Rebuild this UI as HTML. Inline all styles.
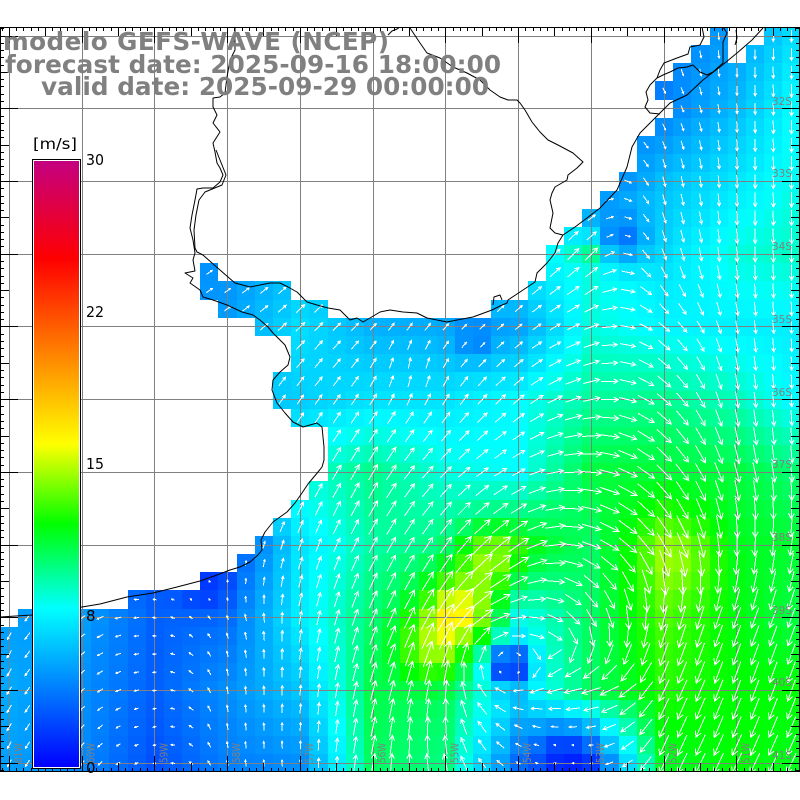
<!DOCTYPE html>
<html><head><meta charset="utf-8"><title>GEFS-WAVE</title>
<style>
html,body{margin:0;padding:0;background:#fff;width:800px;height:800px;overflow:hidden}
svg{display:block}
text{font-family:"DejaVu Sans","Liberation Sans",sans-serif;}
</style></head>
<body>
<svg id="svg" xmlns="http://www.w3.org/2000/svg" width="800" height="800" viewBox="0 0 800 800">
<defs>
<linearGradient id="cb" x1="0" y1="0" x2="0" y2="1">
<stop offset="0" stop-color="rgb(196,0,128)"/>
<stop offset="0.162" stop-color="rgb(255,0,0)"/>
<stop offset="0.467" stop-color="rgb(255,255,0)"/>
<stop offset="0.599" stop-color="rgb(0,255,0)"/>
<stop offset="0.738" stop-color="rgb(0,255,255)"/>
<stop offset="1" stop-color="rgb(0,0,255)"/>
</linearGradient>
<clipPath id="pc"><rect x="0" y="27" width="800" height="745"/></clipPath>
</defs>
<rect width="800" height="800" fill="#fff"/>
<g id="cells" shape-rendering="crispEdges" clip-path="url(#pc)"></g>
<g id="grid" stroke="#808080" stroke-width="1" shape-rendering="crispEdges"></g>
<g id="arrows" clip-path="url(#pc)"></g>
<g id="coast" stroke="#000" stroke-width="1" fill="none" stroke-linejoin="round" clip-path="url(#pc)">
<polyline points="0,617 32,615 82,607 100,604 127,597 153,593 177,587 200,581 217,575 230,570 240,567 250,562 258,555 262,550 261,540 265,532 273,522 280,517 287,512 295,503 302,493 308,484 313,478 318,472 322,467 324,460 324,447 322,427 317,423 303,427 293,422 285,413 277,403 272,390 273,380 280,372 288,365 290,357 285,345 280,340 273,333 268,327 260,320 253,315 242,312 227,305 213,300 203,297 200,290 190,283 193,278 185,273 195,271 193,260 195,253 193,240 190,228 192,215 195,200 197,189 203,188 213,188 220,182 223,175 220,168 217,163 215,152 213,143 220,132 213,123 217,115 213,107 213,98 220,97 225,93 227,77 230,60 235,50 235,27"/>
<polyline points="216,150 222,165 226,175 222,185 205,192 199,200 196,215 194,230 195,248 197,252 203,255 212,263 220,270 228,277 235,283 250,287 260,285 270,283 280,283 288,287 297,292 307,302 317,305 328,308 340,310 345,315 350,320 357,318 363,322 370,318 380,312 390,310 403,312 417,313 427,318 437,320 447,322 457,320 473,317 492,310 500,306 507,303 508,300 520,292 535,282 537,273 547,263 555,253 558,243 563,235 575,227 587,218 600,208 617,190 627,167 632,147 640,133 650,123 660,113 670,103 687,95 703,80 720,67 737,53 752,40 763,28"/>
<polyline points="563,235 555,233 550,228 553,213 550,200 552,193 555,187 567,180 568,175 577,168 583,162 573,153 558,145 548,140 540,132 532,122 525,110 520,103 517,100 508,100 500,97 490,90 480,80 467,73 453,67 440,58 427,53 420,43 410,28"/>
<polyline points="388,35 392,31 397,29 400,27"/>
<polyline points="493,305 494,297 500,295 502,300"/>
<polyline points="702,27 704,37 700,45 690,47 688,54 677,58 664,63 660,70 657,78 650,85 646,92 648,100 645,107 650,113 660,114"/>
<polyline points="723,27 727,33 723,42 723,50 723,63 713,72 707,75 700,72 693,65 687,67 678,68 670,72 663,75 657,78"/>
<polyline points="736,30 737,38 735,45"/>
</g>
<g id="ticks" stroke="#000" stroke-width="1" shape-rendering="crispEdges"></g>
<g fill="#808080" font-size="11">
<text x="772" y="105" textLength="20" lengthAdjust="spacingAndGlyphs">32S</text>
<text x="772" y="177" textLength="20" lengthAdjust="spacingAndGlyphs">33S</text>
<text x="772" y="250" textLength="20" lengthAdjust="spacingAndGlyphs">34S</text>
<text x="772" y="323" textLength="20" lengthAdjust="spacingAndGlyphs">35S</text>
<text x="772" y="396" textLength="20" lengthAdjust="spacingAndGlyphs">36S</text>
<text x="772" y="468" textLength="20" lengthAdjust="spacingAndGlyphs">37S</text>
<text x="772" y="541" textLength="20" lengthAdjust="spacingAndGlyphs">38S</text>
<text x="772" y="614" textLength="20" lengthAdjust="spacingAndGlyphs">39S</text>
<text x="772" y="686" textLength="20" lengthAdjust="spacingAndGlyphs">40S</text>
<text x="772" y="759" textLength="20" lengthAdjust="spacingAndGlyphs">41S</text>
</g>
<g id="lonlab" fill="#808080" font-size="11"></g>
<!-- colorbar -->
<rect x="32.5" y="159.5" width="48" height="609" fill="#fff" stroke="#000" stroke-width="1"/>
<rect x="34" y="161" width="45" height="606" fill="url(#cb)"/>
<g fill="#000" font-size="15">
<text x="33" y="149" textLength="44" lengthAdjust="spacingAndGlyphs">[m/s]</text>
<text x="86" y="165" textLength="18" lengthAdjust="spacingAndGlyphs">30</text>
<text x="86" y="317" textLength="18" lengthAdjust="spacingAndGlyphs">22</text>
<text x="86" y="469" textLength="18" lengthAdjust="spacingAndGlyphs">15</text>
<text x="86" y="621">8</text>
<text x="86" y="773">0</text>
</g>
<!-- title -->
<g fill="#808080" font-size="24.7" font-weight="bold">
<text x="3" y="50" textLength="386" lengthAdjust="spacing">modelo GEFS-WAVE (NCEP)</text>
<text x="5" y="73" textLength="496" lengthAdjust="spacing">forecast date: 2025-09-16 18:00:00</text>
<text x="41" y="95" textLength="448" lengthAdjust="spacing">valid date: 2025-09-29 00:00:00</text>
</g>
</svg>
<script>
(function(){
const S=[
[5,5,5,5,5,5,5,5,4,4,5,7.5],
[5,5,5,5,5,5,5,5,4,4,6,8.5],
[5,5,5,5,5,5,5,7,3.5,6,7.3,8.5],
[5,5,4.5,4.5,6,6,6,7.5,8.5,7,8.5,9],
[5,5,4.5,5,7,5.6,5.4,5.2,8.5,7.8,7.6,7.5],
[5,5,5,6,6.5,7.2,7.2,8,9.5,9.8,9,7.6],
[5,5,5,7,8.5,9.8,8.5,8,11,11.2,11,10],
[4,3,2.5,2,7.2,9.4,10,11.5,10.5,13.5,11.5,11.2],
[5,5,3,3.5,7.5,10.3,12.5,8,10.5,13.2,11.8,10.8],
[5.3,4.5,3,4.5,6.2,10.8,10.5,7,10.5,12.5,12,12],
[5,4.3,2.5,4,4.5,10.5,10,3.5,2.5,11.5,12,11.5]
];
const D=[
[45,45,45,45,45,45,45,45,150,160,180,180],
[45,45,45,45,45,45,45,45,120,150,178,180],
[45,45,45,45,45,45,45,45,60,165,178,180],
[45,50,55,55,50,50,50,45,45,160,178,180],
[45,50,55,55,45,45,45,50,70,130,170,180],
[45,45,45,35,35,35,35,50,78,130,170,180],
[45,45,40,30,30,30,45,62,95,135,165,178],
[300,290,300,15,20,28,35,55,110,150,180,190],
[210,235,275,340,10,22,30,60,150,195,200,200],
[210,230,265,350,5,15,15,320,260,205,200,200],
[210,220,255,350,0,10,350,300,265,205,205,205]
];
const land=[
[[39,39],[42,43]],[[38,39],[41,43]],[[37,43]],[[36,43]],[[37,43]],[[36,43]],[[35,43]],[[35,43]],
[[34,43]],[[33,43]],[[32,43]],[[31,43]],[[30,43]],[[11,11],[30,43]],[[11,15],[29,43]],[[12,17],[27,43]],
[[14,43]],[[16,43]],[[16,43]],[[15,43]],[[15,43]],[[16,43]],[[18,43]],[[18,43]],[[18,43]],[[17,43]],
[[16,43]],[[15,43]],[[14,43]],[[13,43]],[[11,43]],[[7,43]],[[1,43]],
[[0,43]],[[0,43]],[[0,43]],[[0,43]],[[0,43]],[[0,43]],[[0,43]],[[0,43]]
];
const sb=[[622,240,18,-3.5],[588,250,10,2],[475,342,14,-1.8],[508,665,14,-7.5],[465,612,24,4.6],[490,560,22,3.5],[430,650,22,2.8],[565,748,20,-2.5],[205,590,15,-1.2],[680,560,25,1.2]];
const db=[[410,368,25,5,0.8]];
const R=Math.PI/180;
const U=D.map(r=>r.map(d=>Math.sin(d*R)));
const V=D.map(r=>r.map(d=>-Math.cos(d*R)));
function bil(G,fa,fb){
  const a0=Math.min(Math.floor(fa),10), b0=Math.min(Math.floor(fb),9);
  const ta=fa-a0, tb=fb-b0;
  return G[b0][a0]*(1-ta)*(1-tb)+G[b0][a0+1]*ta*(1-tb)+G[b0+1][a0]*(1-ta)*tb+G[b0+1][a0+1]*ta*tb;
}
const st=[[0,0,0,255],[8,0,255,255],[12,0,255,0],[16,255,255,0],[25,255,0,0],[30,196,0,128]];
function col(v){
  if(v<=0) return 'rgb(0,0,255)';
  for(let k=1;k<st.length;k++){
    if(v<=st[k][0]){
      const a=st[k-1],b=st[k],t=(v-a[0])/(b[0]-a[0]);
      return 'rgb('+Math.round(a[1]+(b[1]-a[1])*t)+','+Math.round(a[2]+(b[2]-a[2])*t)+','+Math.round(a[3]+(b[3]-a[3])*t)+')';
    }
  }
  return 'rgb(196,0,128)';
}
const c28=Math.cos(28*R), s28=Math.sin(28*R);
let cells='', ad='';
const f=n=>n.toFixed(1);
for(let j=0;j<=40;j++){
  const y0=Math.max(27,Math.round(26.9+18.18*j)), y1=Math.min(772,Math.round(26.9+18.18*(j+1)));
  const cy=36+18.18*j;
  for(const rg of land[j]){
    for(let i=rg[0];i<=rg[1];i++){
      const x0=i==0?0:Math.round(0.2+18.19*i), x1=Math.min(800,Math.round(0.2+18.19*(i+1)));
      const cx=9.3+18.19*i;
      const fa=i/4, fb=j/4;
      let s=bil(S,fa,fb);
      for(const b of sb){const r2=(cx-b[0])**2+(cy-b[1])**2; s+=b[3]*Math.exp(-r2/(2*b[2]*b[2]));}
      s=Math.max(0.3,s);
      let u=bil(U,fa,fb), v=bil(V,fa,fb);
      let n=Math.hypot(u,v)||1; u/=n; v/=n;
      for(const b of db){const w=b[4]*Math.exp(-((cx-b[0])**2+(cy-b[1])**2)/(2*b[2]*b[2])); u=u*(1-w)+Math.sin(b[3]*R)*w; v=v*(1-w)-Math.cos(b[3]*R)*w;}
      {const dx=cx-508, dy=cy-665, r=Math.hypot(dx,dy)||1; const w=0.9*Math.exp(-(r*r)/(2*45*45)); u=u*(1-w)+(-dy/r)*w; v=v*(1-w)+(dx/r)*w;}
      n=Math.hypot(u,v)||1; u/=n; v/=n;
      cells+='<rect x="'+x0+'" y="'+y0+'" width="'+(x1-x0)+'" height="'+(y1-y0)+'" fill="'+col(s)+'"/>';
      const L=Math.max(1.5,2.1*s-2.5), h=Math.max(2,0.3*L);
      const tx=cx+u*L/2, ty=cy+v*L/2, sx=cx-u*L/2, sy=cy-v*L/2;
      const b1x=-u*c28+v*s28, b1y=-u*s28-v*c28;
      const b2x=-u*c28-v*s28, b2y=u*s28-v*c28;
      ad+='M'+f(sx)+' '+f(sy)+'L'+f(tx)+' '+f(ty)+'M'+f(tx+b1x*h)+' '+f(ty+b1y*h)+'L'+f(tx)+' '+f(ty)+'L'+f(tx+b2x*h)+' '+f(ty+b2y*h);
    }
  }
}
document.getElementById('cells').innerHTML=cells;
document.getElementById('arrows').innerHTML='<path d="'+ad+'" stroke="#fff" stroke-width="1" fill="none" shape-rendering="crispEdges"/>';
// grid
let g='';
for(let k=0;k<=10;k++){
  const x=Math.floor(9.3+72.75*k)+0.5;
  g+='<line x1="'+x+'" y1="27" x2="'+x+'" y2="772"/>';
  const y=Math.floor(36+72.73*k)+0.5;
  g+='<line x1="0" y1="'+y+'" x2="800" y2="'+y+'"/>';
}
document.getElementById('grid').innerHTML=g;
// ticks
let t='M0 27.5H800M0 771.5H800M0.5 27V772M799.5 27V772';
for(let n=-2;n<=112;n++){
  const x=9.3+7.275*n; if(x<0||x>800) continue;
  const L=(n%10==0)?16:((n%5==0)?9:4); const xx=Math.floor(x)+0.5;
  t+='M'+xx+' 27V'+(27+L)+'M'+xx+' 772V'+(772-L);
}
for(let m=-2;m<=106;m++){
  const y=36+7.273*m; if(y<27||y>772) continue;
  const L=(m%10==0)?18:((m%5==0)?9:4); const yy=Math.floor(y)+0.5;
  t+='M0 '+yy+'H'+L+'M800 '+yy+'H'+(800-L);
}
document.getElementById('ticks').innerHTML='<path d="'+t+'" fill="none"/>';
// lon labels
let ll='';
for(let k=0;k<=10;k++){
  const x=9.3+72.75*k+12.5;
  ll+='<text transform="translate('+x.toFixed(1)+',763) rotate(-90)" x="0" y="0" textLength="20" lengthAdjust="spacingAndGlyphs">'+(61-k)+'W</text>';
}
document.getElementById('lonlab').innerHTML=ll;
})();
</script>
</body></html>
